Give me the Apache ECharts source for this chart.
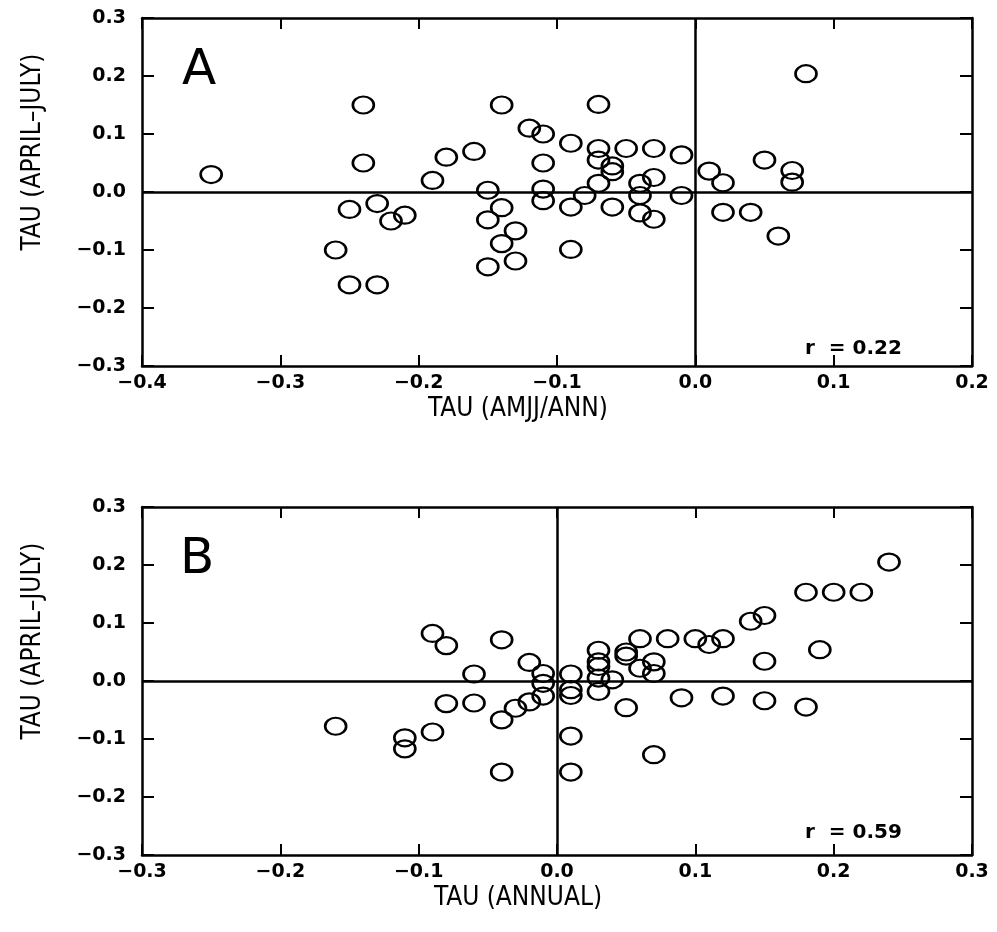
<!DOCTYPE html>
<html>
<head>
<meta charset="utf-8">
<script src="https://cdn.jsdelivr.net/npm/echarts@6/dist/echarts.min.js"></script>
<style>
  html, body { margin: 0; padding: 0; background: #fff; }
  #chart { width: 997px; height: 932px; }
</style>
</head>
<body>
<div id="chart"></div>
<script>
// panel A: TAU (AMJJ/ANN) vs TAU (APRIL-JULY)
var aX = [-0.35, -0.24, -0.24, -0.25, -0.23, -0.22, -0.21, -0.26, -0.25, -0.23,
  -0.19, -0.18, -0.16, -0.14, -0.12, -0.11, -0.11, -0.11, -0.11, -0.15,
  -0.14, -0.15, -0.13, -0.14, -0.13, -0.15, -0.07, -0.09, -0.07, -0.07,
  -0.06, -0.06, -0.05, -0.03, -0.01, -0.07, -0.04, -0.03, -0.08, -0.04,
  -0.01, -0.09, -0.06, -0.04, -0.03, -0.09, 0.01, 0.02, 0.05, 0.07,
  0.07, 0.08, 0.02, 0.04, 0.06]
var aY = [0.03, 0.15, 0.05, -0.03, -0.02, -0.05, -0.04, -0.10, -0.16, -0.16,
  0.02, 0.06, 0.07, 0.15, 0.11, 0.10, 0.05, 0.005, -0.015, 0.003,
  -0.027, -0.048, -0.067, -0.089, -0.119, -0.129, 0.151, 0.084, 0.075, 0.055,
  0.045, 0.035, 0.075, 0.075, 0.064, 0.015, 0.015, 0.025, -0.006, -0.006,
  -0.006, -0.026, -0.026, -0.036, -0.047, -0.099, 0.036, 0.016, 0.055, 0.037,
  0.017, 0.204, -0.035, -0.035, -0.076]

// panel B: TAU (ANNUAL) vs TAU (APRIL-JULY)
var bX = [-0.16, -0.11, -0.11, -0.09, -0.09, -0.08, -0.08, -0.06, -0.06, -0.04,
  -0.04, -0.04, -0.03, -0.02, -0.02, -0.01, -0.01, -0.01, 0.01, 0.01,
  0.01, 0.01, 0.01, 0.03, 0.03, 0.03, 0.03, 0.03, 0.04, 0.05,
  0.05, 0.06, 0.06, 0.07, 0.07, 0.05, 0.07, 0.08, 0.09, 0.10,
  0.11, 0.12, 0.12, 0.14, 0.15, 0.15, 0.15, 0.18, 0.20, 0.22,
  0.24, 0.19, 0.18]
var bY = [-0.078, -0.098, -0.117, -0.088, 0.082, 0.061, -0.039, 0.012, -0.038, 0.071,
  -0.067, -0.157, -0.047, 0.032, -0.036, 0.013, -0.004, -0.026, 0.012, -0.015,
  -0.025, -0.095, -0.157, 0.053, 0.033, 0.025, 0.005, -0.018, 0.002, 0.050,
  0.043, 0.073, 0.022, 0.033, 0.013, -0.046, -0.127, 0.073, -0.029, 0.073,
  0.063, 0.073, -0.026, 0.103, 0.113, 0.034, -0.034, 0.153, 0.153, 0.153,
  0.205, 0.054, -0.045]

var tickFont = 'DejaVu Sans'
var nameFont = '"DejaVu Sans Condensed", sans-serif'

function pairs(xs, ys) {
  var out = []
  for (var i = 0; i < xs.length; i++) out.push([xs[i], ys[i]])
  return out
}

function fmt(v) {
  return v.toFixed(1).replace('-', '\u2212')
}

var lineBlack = { color: '#000', width: 2.5 }
var tickStyle = { color: '#000', width: 2 }

function bottomAxis(grid, min, max, name) {
  return {
    gridIndex: grid, type: 'value', min: min, max: max, interval: 0.1,
    position: 'bottom',
    axisLine: { show: true, onZero: false, lineStyle: lineBlack },
    axisTick: { show: true, inside: true, length: 11, lineStyle: tickStyle },
    axisLabel: { show: true, margin: 8, formatter: fmt, color: '#000', fontFamily: tickFont, fontWeight: 'bold', fontSize: 19, showMinLabel: true, showMaxLabel: true },
    splitLine: { show: false },
    name: name, nameLocation: 'middle', nameGap: 30,
    nameTextStyle: { fontFamily: nameFont, fontSize: 26, color: '#000', padding: [0, 78, 0, 0] }
  }
}
function topAxis(grid, min, max) {
  return {
    gridIndex: grid, type: 'value', min: min, max: max, interval: 0.1,
    position: 'top',
    axisLine: { show: true, onZero: false, lineStyle: lineBlack },
    axisTick: { show: true, inside: true, length: 11, lineStyle: tickStyle },
    axisLabel: { show: false },
    splitLine: { show: false }
  }
}
function leftAxis(grid) {
  return {
    gridIndex: grid, type: 'value', min: -0.3, max: 0.3, interval: 0.1,
    position: 'left',
    axisLine: { show: true, onZero: false, lineStyle: lineBlack },
    axisTick: { show: true, inside: true, length: 12, lineStyle: tickStyle },
    axisLabel: { show: true, margin: 16, formatter: fmt, color: '#000', fontFamily: tickFont, fontWeight: 'bold', fontSize: 19 },
    splitLine: { show: false },
    name: 'TAU (APRIL\u2013JULY)', nameLocation: 'middle', nameGap: 96,
    nameTextStyle: { fontFamily: nameFont, fontSize: 26, color: '#000', padding: [0, 0, 0, 80] }
  }
}
function rightAxis(grid) {
  return {
    gridIndex: grid, type: 'value', min: -0.3, max: 0.3, interval: 0.1,
    position: 'right',
    axisLine: { show: true, onZero: false, lineStyle: lineBlack },
    axisTick: { show: true, inside: true, length: 12, lineStyle: tickStyle },
    axisLabel: { show: false },
    splitLine: { show: false }
  }
}

function scatter(xi, yi, data) {
  return {
    type: 'scatter', xAxisIndex: xi, yAxisIndex: yi,
    data: data,
    symbol: 'circle',
    symbolSize: [21, 17],
    itemStyle: { color: 'rgba(255,255,255,0)', borderColor: '#000', borderWidth: 2.4, opacity: 1 },
    silent: true,
    animation: false,
    markLine: {
      silent: true, symbol: 'none', animation: false,
      label: { show: false },
      lineStyle: { color: '#000', width: 2.5, type: 'solid' },
      data: [{ xAxis: 0 }, { yAxis: 0 }]
    }
  }
}

var chart = echarts.init(document.getElementById('chart'), null, { renderer: 'canvas' })

var option = {
  backgroundColor: '#fff',
  animation: false,
  grid: [
    { left: 142, top: 18, width: 830, height: 348 },
    { left: 142, top: 507, width: 830, height: 348 }
  ],
  xAxis: [
    bottomAxis(0, -0.4, 0.2, 'TAU (AMJJ/ANN)'),
    topAxis(0, -0.4, 0.2),
    bottomAxis(1, -0.3, 0.3, 'TAU (ANNUAL)'),
    topAxis(1, -0.3, 0.3)
  ],
  yAxis: [leftAxis(0), rightAxis(0), leftAxis(1), rightAxis(1)],
  series: [
    scatter(0, 0, pairs(aX, aY)),
    scatter(2, 2, pairs(bX, bY))
  ],
  graphic: [
    { type: 'text', left: 182, top: 46, style: { text: 'A', font: '50px "DejaVu Sans ExtraLight", "DejaVu Sans"', fill: '#000' } },
    { type: 'text', left: 180, top: 535, style: { text: 'B', font: '50px "DejaVu Sans ExtraLight", "DejaVu Sans"', fill: '#000' } },
    { type: 'text', left: 805, top: 339, style: { text: 'r  = 0.22', font: 'bold 20px "DejaVu Sans"', fill: '#000' } },
    { type: 'text', left: 805, top: 823, style: { text: 'r  = 0.59', font: 'bold 20px "DejaVu Sans"', fill: '#000' } }
  ]
}

chart.setOption(option)
</script>
</body>
</html>
